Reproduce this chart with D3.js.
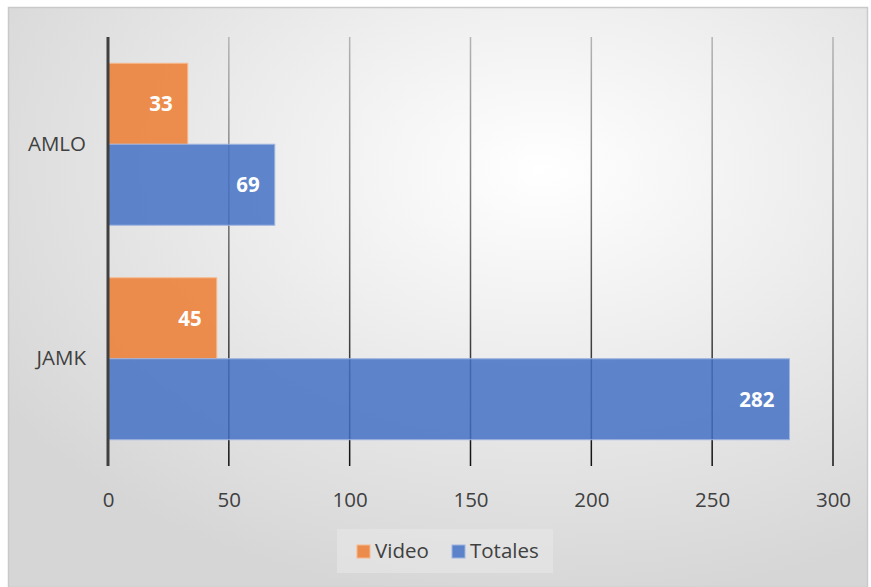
<!DOCTYPE html>
<html>
<head>
<meta charset="utf-8">
<script src="https://cdn.jsdelivr.net/npm/d3@7"></script>
<style>
  body { margin: 0; background: #fff; }
  svg { display: block; font-family: "Open Sans", "Noto Sans", sans-serif; }
</style>
</head>
<body>
<div id="chart"></div>
<script>
// datos
const categories = ["AMLO", "JAMK"];
const seriesNames = ["Video", "Totales"];
const videoValues = [33, 45];
const totalValues = [69, 282];
const xTicks = [0, 50, 100, 150, 200, 250, 300];

const width = 871, height = 587;
const colors = { Video: "#ED7D31", Totales: "#4472C4" };
const edge = { Video: "#F6B98E", Totales: "#9DB4E0" };
const fontSize = 20.5;

const svg = d3.select("#chart").append("svg")
    .attr("width", width)
    .attr("height", height);

const defs = svg.append("defs");
// fondo con degradado radial
const bg = defs.append("radialGradient")
    .attr("id", "bg")
    .attr("cx", "62%").attr("cy", "28%").attr("r", "75%");
bg.append("stop").attr("offset", "0%").attr("stop-color", "#ffffff");
bg.append("stop").attr("offset", "100%").attr("stop-color", "#d6d6d6");

const margin = { top: 37, bottom: 121, left: 108, right: 38 };
const plotTop = margin.top, plotBottom = height - margin.bottom;

const gridGrad = defs.append("linearGradient")
    .attr("id", "gridGrad")
    .attr("gradientUnits", "userSpaceOnUse")
    .attr("x1", 0).attr("y1", plotTop).attr("x2", 0).attr("y2", plotBottom);
gridGrad.append("stop").attr("offset", "0%").attr("stop-color", "#b4b4b4");
gridGrad.append("stop").attr("offset", "100%").attr("stop-color", "#111111");

svg.append("rect")
    .attr("x", 8.5).attr("y", 7.5)
    .attr("width", width - 12).attr("height", height - 7)
    .attr("fill", "url(#bg)")
    .attr("stroke", "#c9c9c9")
    .attr("stroke-width", 1.5);

const x = d3.scaleLinear()
    .domain([0, 300])
    .range([margin.left, width - margin.right]);

const y = d3.scaleBand()
    .domain(categories)
    .range([plotTop, plotBottom])
    .paddingInner(0.245)
    .paddingOuter(0.1225);

const ySub = d3.scaleBand()
    .domain(seriesNames)
    .range([0, y.bandwidth()]);

// líneas de cuadrícula
svg.append("g")
    .selectAll("line")
    .data(xTicks.filter(d => d > 0))
    .join("line")
    .attr("x1", d => x(d)).attr("x2", d => x(d))
    .attr("y1", plotTop).attr("y2", plotBottom)
    .attr("stroke", "url(#gridGrad)")
    .attr("stroke-width", 1.5);

// eje x (etiquetas)
const xAxis = d3.axisBottom(x).tickValues(xTicks).tickSize(0).tickPadding(0);
const gx = svg.append("g")
    .attr("transform", `translate(0,${plotBottom + 41})`)
    .call(xAxis);
gx.select(".domain").remove();
gx.selectAll("text")
    .attr("font-size", fontSize)
    .attr("font-family", "Open Sans, Noto Sans, sans-serif")
    .attr("fill", "#404040")
    .attr("dy", "0");

// barras
const rows = categories.map((c, i) => ({
    cat: c,
    items: [
        { name: "Video", value: videoValues[i] },
        { name: "Totales", value: totalValues[i] }
    ]
}));

const groups = svg.append("g")
    .selectAll("g")
    .data(rows)
    .join("g")
    .attr("transform", d => `translate(0,${y(d.cat)})`);

groups.selectAll("rect")
    .data(d => d.items)
    .join("rect")
    .attr("x", x(0))
    .attr("y", d => ySub(d.name))
    .attr("width", d => x(d.value) - x(0))
    .attr("height", ySub.bandwidth())
    .attr("fill", d => colors[d.name])
    .attr("fill-opacity", 0.85)
    .attr("stroke", d => edge[d.name])
    .attr("stroke-width", 1);

groups.selectAll("text")
    .data(d => d.items)
    .join("text")
    .attr("x", d => x(d.value) - 15)
    .attr("y", d => ySub(d.name) + ySub.bandwidth() / 2)
    .attr("dy", "0.36em")
    .attr("text-anchor", "end")
    .attr("font-size", fontSize)
    .attr("font-weight", "bold")
    .attr("fill", "#ffffff")
    .text(d => d.value);

// eje y (categorías)
const gy = svg.append("g")
    .attr("transform", `translate(${x(0)},0)`)
    .call(d3.axisLeft(y).tickSize(0).tickPadding(22));
gy.select(".domain").remove();
gy.selectAll("text")
    .attr("font-size", fontSize)
    .attr("font-family", "Open Sans, Noto Sans, sans-serif")
    .attr("fill", "#404040");

svg.append("line")
    .attr("x1", x(0)).attr("x2", x(0))
    .attr("y1", plotTop).attr("y2", plotBottom)
    .attr("stroke", "#404040")
    .attr("stroke-width", 3);

// leyenda
const legend = svg.append("g").attr("transform", "translate(337,529)");
legend.append("rect")
    .attr("width", 216).attr("height", 44)
    .attr("fill", "#e6e6e6").attr("fill-opacity", 0.7);
const legendPos = [20, 115];
const li = legend.selectAll("g")
    .data(seriesNames)
    .join("g")
    .attr("transform", (d, i) => `translate(${legendPos[i]},22)`);
li.append("rect")
    .attr("x", 0).attr("y", -6)
    .attr("width", 13).attr("height", 13)
    .attr("fill", d => colors[d])
    .attr("fill-opacity", 0.85)
    .attr("stroke", d => edge[d]);
li.append("text")
    .attr("x", 18)
    .attr("dy", "0.36em")
    .attr("font-size", fontSize)
    .attr("fill", "#404040")
    .text(d => d);
</script>
</body>
</html>
